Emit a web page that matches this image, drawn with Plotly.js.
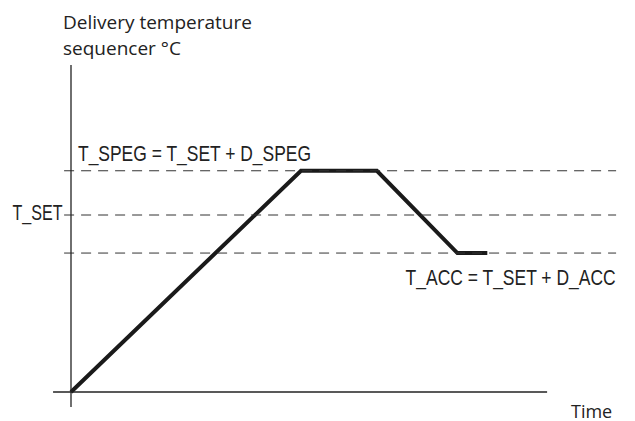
<!DOCTYPE html>
<html>
<head>
<meta charset="utf-8">
<script src="https://cdn.plot.ly/plotly-3.0.1.min.js"></script>
<style>html,body{margin:0;padding:0;background:#fff;}#chart{width:635px;height:421px;}</style>
</head>
<body>
<div id="chart"></div>
<script>
// Schematic data (arbitrary units)
const time = [0, 10, 13.3, 16.8, 18.1];
const temperature = [0, 50, 50, 31.4, 31.4];
const T_SET = 40;
const D_SPEG = 10;
const D_ACC = -8.6;
const T_SPEG = T_SET + D_SPEG;
const T_ACC = T_SET + D_ACC;
const levels = [T_SPEG, T_SET, T_ACC];
const yTitle = ["Delivery temperature", "sequencer °C"];
const xTitle = "Time";
const labelSPEG = "T_SPEG = T_SET + D_SPEG";
const labelSET = "T_SET";
const labelACC = "T_ACC = T_SET + D_ACC";

const humanist = "Open Sans, Noto Sans, sans-serif";
const narrow = "Liberation Sans, Arial, sans-serif";
const ink = "#222";

const shapes = levels.map(v => ({
  type: "line", xref: "x", yref: "y", x0: -0.3, x1: 23.7, y0: v, y1: v,
  line: {color: "#333", width: 1, dash: "10px,7px"}
}));
shapes.push({type: "line", xref: "x", yref: "y", x0: 0, x1: 0, y0: -3.4, y1: 73.9,
  line: {color: ink, width: 1.3}});
shapes.push({type: "line", xref: "x", yref: "y", x0: -0.78, x1: 20.7, y0: 0, y1: 0,
  line: {color: ink, width: 1.3}});

const annotations = [
  {text: yTitle[0], x: -0.42, y: 83.6, xanchor: "left", yanchor: "middle",
   font: {family: humanist, size: 19, color: ink}},
  {text: yTitle[1], x: -0.42, y: 77.8, xanchor: "left", yanchor: "middle",
   font: {family: humanist, size: 19, color: ink}},
  {text: labelSPEG, x: 0.2, y: T_SPEG, xanchor: "left", yanchor: "bottom", yshift: 3,
   font: {family: narrow, size: 22, color: ink}},
  {text: labelSET, x: -0.3, y: T_SET, xanchor: "right", yanchor: "middle", yshift: 3,
   font: {family: narrow, size: 22, color: ink}},
  {text: labelACC, x: 23.8, y: T_ACC, xanchor: "right", yanchor: "top", yshift: -10,
   font: {family: narrow, size: 22, color: ink}},
  {text: xTitle, x: 23.6, y: 0, xanchor: "right", yanchor: "top", yshift: -5,
   font: {family: humanist, size: 18, color: ink}}
].map(a => Object.assign({xref: "x", yref: "y", showarrow: false}, a));

const trace = {
  x: time, y: temperature, type: "scatter", mode: "lines",
  line: {color: "#1a1a1a", width: 4}, hoverinfo: "skip", cliponaxis: false
};

const layout = {
  width: 635, height: 421,
  margin: {l: 0, r: 0, t: 0, b: 0, pad: 0},
  paper_bgcolor: "#fff", plot_bgcolor: "#fff",
  showlegend: false,
  xaxis: {range: [-71/23, 564/23], visible: false, fixedrange: true},
  yaxis: {range: [-29/4.425, 392/4.425], visible: false, fixedrange: true},
  shapes: shapes,
  annotations: annotations
};

// condense the formula labels (like a narrow typeface), keeping their anchored edge
const condensed = {2: ["left", 233], 3: ["right", 50], 4: ["right", 210]};
Plotly.newPlot("chart", [trace], layout, {staticPlot: true, displayModeBar: false}).then(gd => {
  Object.keys(condensed).forEach(i => {
    const t = gd.querySelector('g.annotation[data-index="' + i + '"] text.annotation-text');
    if (!t) return;
    const bb = t.getBBox();
    const side = condensed[i][0];
    const w = Math.min(bb.width, condensed[i][1]);
    if (side === "left") {
      t.setAttribute("text-anchor", "start");
      t.setAttribute("x", bb.x);
    } else {
      t.setAttribute("text-anchor", "end");
      t.setAttribute("x", bb.x + bb.width);
    }
    t.setAttribute("textLength", w);
    t.setAttribute("lengthAdjust", "spacingAndGlyphs");
  });
});
</script>
</body>
</html>
